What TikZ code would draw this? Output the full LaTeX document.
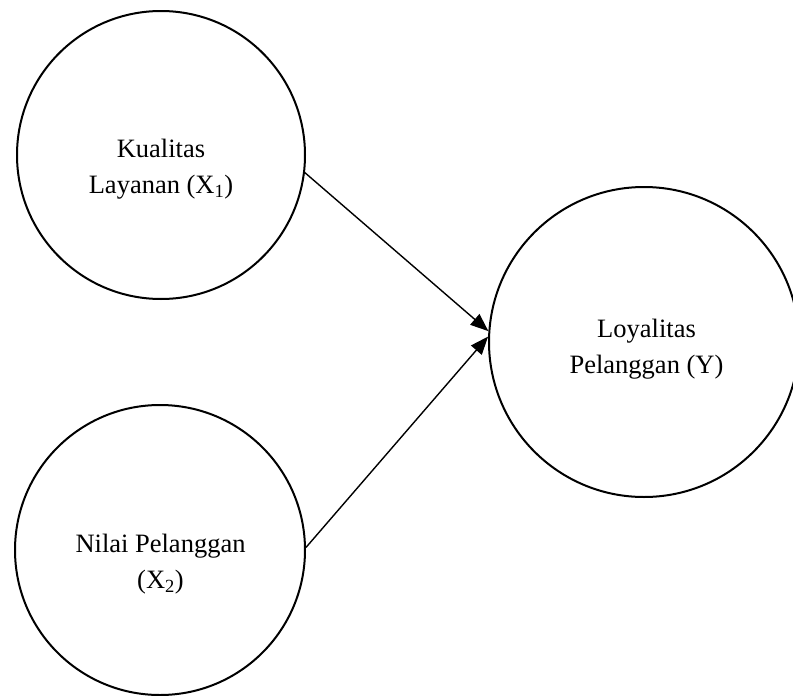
\documentclass[tikz,border=0pt]{standalone}
\usepackage{fontspec}
\setmainfont{Liberation Serif}
\usetikzlibrary{arrows.meta}
\begin{document}
\begin{tikzpicture}[x=1pt,y=1pt,
  var/.style={circle,draw=black,line width=2pt,inner sep=0pt},
  lbl/.style={align=center,font=\fontsize{26.5}{36}\selectfont,inner sep=0pt},
  arr/.style={line width=1.4pt,-{Triangle[length=18pt,width=14pt]}}]
\useasboundingbox (0,0) rectangle (793,-696);
\node[var,minimum size=288pt] (k) at (161,-155) {};
\node[var,minimum size=290pt] (n) at (160,-550) {};
\node[var,minimum size=310pt] (y) at (644,-342) {};
\node[lbl] (kt) at (161,-169) {Kualitas\\Layanan (X\textsubscript{1})};
\node[lbl] (nt) at (160.5,-564) {Nilai Pelanggan\\(X\textsubscript{2})};
\node[lbl] (yt) at (646.5,-349) {Loyalitas\\Pelanggan (Y)};
\draw[arr] (k.-7) -- (y.176.6);
\draw[arr] (n.1) -- (y.178.9);
\end{tikzpicture}
\end{document}
